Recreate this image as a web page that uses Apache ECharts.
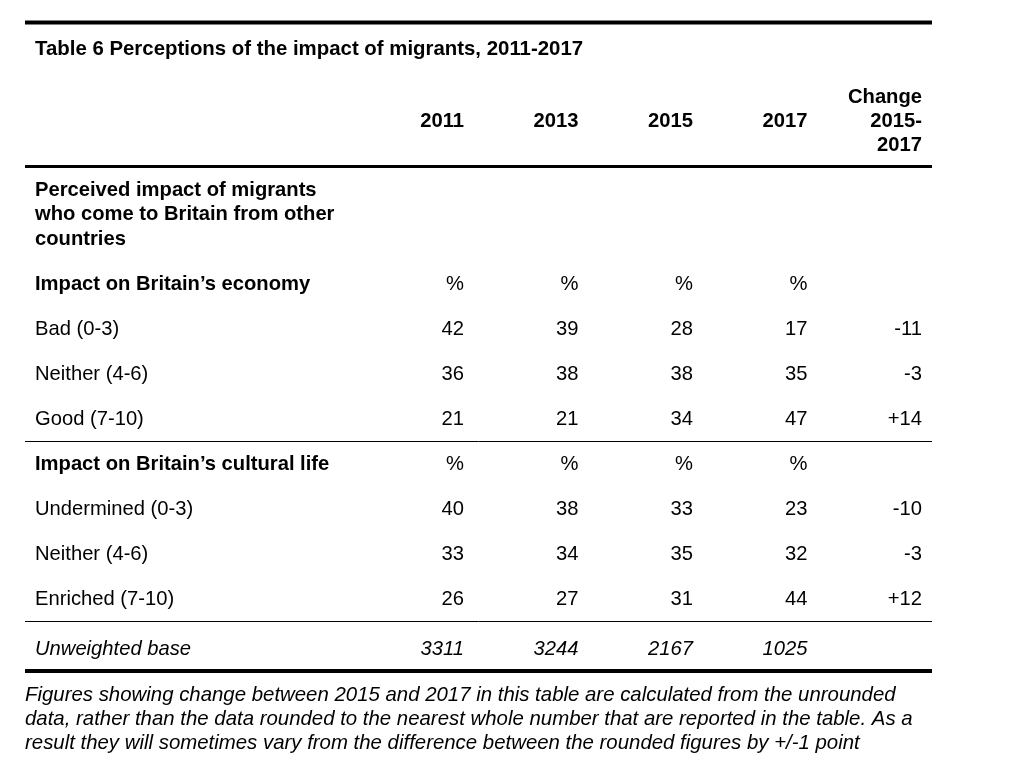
<!DOCTYPE html>
<html>
<head>
<meta charset="utf-8">
<script src="https://cdn.jsdelivr.net/npm/echarts@6/dist/echarts.min.js"></script>
<style>
html,body{margin:0;padding:0;background:#fff;}
#chart{width:1013px;height:769px;}
</style>
</head>
<body>
<div id="chart"></div>
<script>
// ---- data ----
const titleText = 'Table 6 Perceptions of the impact of migrants, 2011-2017';
const sectionHeading = 'Perceived impact of migrants\nwho come to Britain from other\ncountries';
const columnHeaders = ['2011', '2013', '2015', '2017', 'Change\n2015-\n2017'];
const rowLabels = [
  'Impact on Britain\u2019s economy',
  'Bad (0-3)',
  'Neither (4-6)',
  'Good (7-10)',
  'Impact on Britain\u2019s cultural life',
  'Undermined (0-3)',
  'Neither (4-6)',
  'Enriched (7-10)',
  'Unweighted base'
];
const economyBad = [42, 39, 28, 17];
const economyNeither = [36, 38, 38, 35];
const economyGood = [21, 21, 34, 47];
const cultureUndermined = [40, 38, 33, 23];
const cultureNeither = [33, 34, 35, 32];
const cultureEnriched = [26, 27, 31, 44];
const changeValues = [-11, -3, 14, -10, -3, 12]; // change 2015-2017, rows in order
const unweightedBase = [3311, 3244, 2167, 1025];
const percentHeader = ['%', '%', '%', '%'];
const footnote = 'Figures showing change between 2015 and 2017 in this table are calculated from the unrounded\ndata, rather than the data rounded to the nearest whole number that are reported in the table. As a\nresult they will sometimes vary from the difference between the rounded figures by +/-1 point';

// ---- build cells ----
const cells = []; // [col, row, text, kind]
function addRow(rowIdx, vals, kind) {
  vals.forEach((v, i) => cells.push([i + 1, rowIdx, String(v), kind]));
}
addRow(0, percentHeader, 'n');
addRow(1, economyBad, 'n');
addRow(2, economyNeither, 'n');
addRow(3, economyGood, 'n');
addRow(4, percentHeader, 'n');
addRow(5, cultureUndermined, 'n');
addRow(6, cultureNeither, 'n');
addRow(7, cultureEnriched, 'n');
addRow(8, unweightedBase, 'i');
const changeRows = [1, 2, 3, 5, 6, 7];
changeRows.forEach((r, i) => {
  const v = changeValues[i];
  cells.push([5, r, (v > 0 ? '+' : '') + v, 'n']);
});

const FONT = '"Liberation Sans", Arial, Helvetica, sans-serif';
const FS = 20.2;
const boldRows = [0, 4];
const italicRows = [8];

const chart = echarts.init(document.getElementById('chart'), null, {renderer: 'canvas'});
chart.setOption({
  backgroundColor: '#ffffff',
  animation: false,
  title: {
    text: titleText,
    left: 30,
    top: 34,
    textStyle: {fontFamily: FONT, fontSize: 20.4, fontWeight: 'bold', color: '#000'}
  },
  grid: {left: 349.5, right: 91, top: 261.5, bottom: 102.5, containLabel: false, outerBoundsMode: 'none'},
  xAxis: {
    type: 'value', position: 'top', min: 0, max: 5, interval: 1,
    axisLine: {show: false}, axisTick: {show: false}, splitLine: {show: false},
    axisLabel: {
      show: true, showMaxLabel: true, showMinLabel: true, hideOverlap: false,
      margin: 140.5, align: 'right', verticalAlign: 'middle',
      lineHeight: 24, fontFamily: FONT, fontSize: FS, fontWeight: 'bold', color: '#000',
      formatter: v => (v >= 1 && v <= 5) ? columnHeaders[v - 1] : ''
    }
  },
  yAxis: {
    type: 'category', inverse: true, data: rowLabels,
    axisLine: {show: false}, axisTick: {show: false}, splitLine: {show: false},
    axisLabel: {
      show: true, interval: 0, margin: 314.5, align: 'left', verticalAlign: 'middle',
      fontFamily: FONT, fontSize: FS, color: '#000',
      formatter: (v, i) => boldRows.includes(i) ? '{b|' + v + '}' :
                           italicRows.includes(i) ? '{u|' + v + '}' : '{r|' + v + '}',
      rich: {
        r: {fontFamily: FONT, fontSize: FS, color: '#000', align: 'left'},
        b: {fontFamily: FONT, fontSize: FS, fontWeight: 'bold', color: '#000', align: 'left'},
        u: {fontFamily: FONT, fontSize: FS, fontStyle: 'italic', color: '#000', align: 'left', padding: [10, 0, 0, 0]}
      }
    }
  },
  series: [{
    type: 'custom',
    coordinateSystem: 'cartesian2d',
    clip: false,
    data: cells.map(c => [c[0], c[1]]),
    renderItem: function (params, api) {
      const cell = cells[params.dataIndex];
      const p = api.coord([api.value(0), api.value(1)]);
      const italic = cell[3] === 'i';
      return {
        type: 'text',
        x: p[0], y: p[1] + (italic ? 5 : 0),
        style: {
          text: cell[2], align: 'right', verticalAlign: 'middle',
          fontFamily: FONT, fontSize: FS, fontStyle: italic ? 'italic' : 'normal',
          fill: '#000'
        }
      };
    }
  }],
  graphic: [
    {type: 'line', shape: {x1: 25, y1: 22.5, x2: 932, y2: 22.5}, style: {stroke: '#000', lineWidth: 4}},
    {type: 'line', shape: {x1: 25, y1: 166.5, x2: 932, y2: 166.5}, style: {stroke: '#000', lineWidth: 3}},
    {type: 'line', shape: {x1: 25, y1: 441.5, x2: 932, y2: 441.5}, style: {stroke: '#000', lineWidth: 1}},
    {type: 'line', shape: {x1: 25, y1: 621.5, x2: 932, y2: 621.5}, style: {stroke: '#000', lineWidth: 1}},
    {type: 'line', shape: {x1: 25, y1: 671, x2: 932, y2: 671}, style: {stroke: '#000', lineWidth: 4}},
    {type: 'text', left: 35, top: 177.75,
     style: {text: sectionHeading, fontFamily: FONT, fontSize: FS, fontWeight: 'bold', lineHeight: 24.5, fill: '#000'}},
    {type: 'text', left: 25, top: 683,
     style: {text: footnote, fontFamily: FONT, fontSize: 20.4, fontStyle: 'italic', lineHeight: 24, fill: '#000'}}
  ]
});
</script>
</body>
</html>
